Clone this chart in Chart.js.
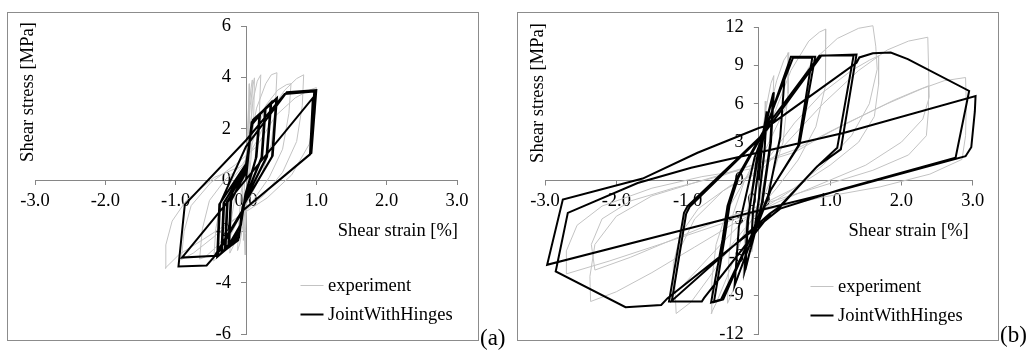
<!DOCTYPE html>
<html>
<head>
<meta charset="utf-8">
<script src="https://cdn.jsdelivr.net/npm/chart.js@4.4.1/dist/chart.umd.min.js"></script>
<style>
  html, body { margin: 0; padding: 0; background: #fff; }
  body { width: 1027px; height: 352px; position: relative; overflow: hidden; }
  .frame { position: absolute; border: 1px solid #8c8c8c; box-sizing: border-box; }
  .wrap { position: absolute; top: 0; height: 352px; }
</style>
</head>
<body>
<div class="frame" style="left:7px; top:12px; width:472px; height:329px;"></div>
<div class="frame" style="left:517px; top:12px; width:482px; height:329px;"></div>
<div class="wrap" style="left:0; width:510px;"><canvas id="chartA" width="510" height="352"></canvas></div>
<div class="wrap" style="left:510px; width:517px;"><canvas id="chartB" width="517" height="352"></canvas></div>

<script>
// ---- tick values ----
const strainTicks = [-3, -2, -1, 0, 1, 2, 3];
const stressTicksA = [-6, -4, -2, 0, 2, 4, 6];
const stressTicksB = [-12, -9, -6, -3, 0, 3, 6, 9, 12];

// ---- (a) experiment: [shear strain %, shear stress MPa] ----
const expA = [
  [0.00,0.00],[0.02,1.90],[0.04,3.10],[0.05,3.75],[0.045,2.20],[0.03,0.60],[0.00,-0.90],[-0.02,-1.90],[-0.04,-2.35],[-0.035,-1.20],[-0.02,-0.10],
  [0.01,0.90],[0.04,2.60],[0.07,3.55],[0.09,3.90],[0.08,2.30],[0.05,0.70],[0.01,-0.80],[-0.01,-2.10],[-0.01,-2.92],[-0.03,-1.60],[-0.05,-0.40],[-0.02,0.40],
  [0.02,1.40],[0.06,2.90],[0.10,3.70],[0.12,3.98],[0.11,2.50],[0.07,0.80],[0.02,-0.60],[-0.04,-1.70],[-0.09,-2.50],[-0.12,-2.75],[-0.10,-1.60],[-0.07,-0.50],[-0.02,0.40],
  [0.04,1.60],[0.10,3.10],[0.16,3.85],[0.21,4.10],[0.19,2.60],[0.13,0.90],[0.05,-0.40],[-0.05,-1.50],[-0.15,-2.40],[-0.23,-2.85],[-0.21,-1.60],[-0.15,-0.50],[-0.05,0.35],
  [0.05,1.30],[0.15,2.80],[0.28,3.75],[0.36,4.10],[0.44,4.18],[0.42,3.00],[0.36,1.40],[0.22,0.20],[0.05,-0.70],[-0.12,-1.60],[-0.28,-2.50],[-0.40,-3.00],[-0.46,-3.15],[-0.43,-1.90],[-0.35,-0.80],[-0.18,0.10],[0.00,0.70],
  [0.12,1.70],[0.28,2.90],[0.45,3.50],[0.58,3.72],[0.64,3.75],[0.61,2.60],[0.52,1.20],[0.33,0.10],[0.10,-0.80],[-0.15,-1.70],[-0.40,-2.55],[-0.58,-3.00],[-0.66,-3.08],[-0.62,-1.90],[-0.52,-0.80],[-0.30,0.00],[-0.05,0.60],
  [0.15,1.50],[0.35,2.70],[0.55,3.50],[0.72,3.95],[0.82,4.10],[0.80,2.90],[0.72,1.50],[0.52,0.30],[0.25,-0.60],[-0.10,-1.40],[-0.45,-2.20],[-0.75,-2.85],[-0.92,-3.10],[-0.88,-2.00],[-0.78,-1.00],[-0.50,-0.10],[-0.15,0.60],
  [0.15,1.30],[0.42,2.50],[0.70,3.20],[0.90,3.50],[1.00,3.60],[0.98,2.60],[0.90,1.40],[0.65,0.20],[0.30,-0.70],[-0.15,-1.50],[-0.60,-2.30],[-0.95,-2.90],[-1.15,-3.44],[-1.14,-2.53],[-1.05,-1.60],[-0.85,-0.80],[-0.45,0.10],[-0.10,0.50]
];

// ---- (a) JointWithHinges ----
const modelA = [
  [0.00,0.00],[0.08,2.20],[0.20,2.55],[0.15,0.90],[0.00,-0.50],[-0.07,-1.70],[-0.25,-2.55],[-0.22,-0.85],
  [0.00,0.30],[0.08,2.15],[0.19,2.50],[0.14,0.85],[-0.01,-0.55],[-0.07,-1.75],[-0.24,-2.50],[-0.21,-0.80],
  [0.00,0.35],[0.08,2.25],[0.28,2.80],[0.23,0.90],[-0.01,-0.70],[-0.09,-2.00],[-0.30,-2.70],[-0.27,-0.85],
  [0.00,0.40],[0.08,2.22],[0.27,2.75],[0.22,0.88],[-0.02,-0.75],[-0.09,-2.05],[-0.29,-2.65],[-0.26,-0.82],
  [0.00,0.45],[0.09,2.28],[0.36,3.03],[0.30,0.92],[-0.03,-0.90],[-0.10,-2.20],[-0.35,-2.85],[-0.32,-0.90],
  [0.00,0.50],[0.09,2.25],[0.35,2.98],[0.29,0.90],[-0.04,-0.95],[-0.10,-2.25],[-0.34,-2.80],[-0.31,-0.88],
  [0.00,0.60],[0.10,2.35],[0.44,3.20],[0.38,0.95],[-0.04,-1.00],[-0.11,-2.30],[-0.41,-3.00],[-0.38,-0.95],
  [0.00,0.62],[0.10,2.32],[0.43,3.15],[0.37,0.92],[-0.05,-1.05],[-0.11,-2.35],[-0.40,-2.95],[-0.37,-0.92],
  [0.00,1.30],[0.58,3.42],[1.00,3.50],[0.93,1.05],[-0.06,-1.22],[-0.46,-3.02],[-0.56,-3.33],[-0.96,-3.37],[-0.87,-0.96],
  [0.00,1.55],[0.55,3.35],[0.97,3.45],[0.91,0.99],[-0.04,-1.18],[-0.42,-2.95],[-0.91,-3.02],[0.95,3.20],[0.91,1.02]
];

// ---- (b) experiment ----
const expB = [
  [0.00,0.00],[0.04,2.80],[0.08,5.00],[0.10,6.20],[0.09,3.50],[0.04,0.30],[-0.02,-2.40],[-0.07,-4.60],[-0.10,-5.60],[-0.09,-3.00],[-0.04,-0.40],
  [0.03,2.50],[0.10,5.60],[0.17,7.60],[0.21,8.20],[0.19,4.80],[0.12,1.20],[0.00,-2.00],[-0.10,-4.80],[-0.18,-6.90],[-0.22,-7.60],[-0.20,-4.40],[-0.13,-1.20],
  [0.00,1.50],[0.12,4.80],[0.25,7.80],[0.35,9.40],[0.42,10.00],[0.41,6.80],[0.34,3.00],[0.18,0.20],[0.00,-2.20],[-0.15,-5.00],[-0.30,-7.70],[-0.40,-9.10],[-0.44,-9.60],[-0.42,-6.00],[-0.36,-2.60],[-0.20,0.00],
  [0.00,2.20],[0.20,5.00],[0.45,8.60],[0.70,10.90],[0.85,11.60],[0.94,11.84],[0.94,9.20],[0.93,7.40],[0.80,4.20],[0.55,1.60],[0.25,-0.60],[0.00,-2.20],[-0.20,-4.00],[-0.45,-7.60],[-0.60,-9.60],[-0.67,-10.40],[-0.66,-7.80],[-0.60,-5.00],[-0.45,-2.40],[-0.20,0.00],
  [0.10,2.50],[0.40,6.00],[0.75,9.30],[1.10,11.10],[1.40,11.90],[1.60,12.10],[1.64,10.50],[1.66,8.70],[1.55,6.00],[1.30,3.50],[0.90,1.20],[0.45,-0.80],[0.00,-2.40],[-0.35,-4.80],[-0.70,-7.60],[-0.95,-9.50],[-1.16,-10.40],[-1.18,-8.00],[-1.12,-5.50],[-0.90,-3.00],[-0.50,-0.80],[0.00,0.80],
  [0.10,1.50],[0.50,4.50],[0.90,6.90],[1.30,8.60],[1.55,9.40],[1.68,9.75],[1.68,7.50],[1.62,5.00],[1.40,3.00],[1.00,1.20],[0.50,-0.60],[0.00,-2.00],[-0.40,-4.20],[-0.80,-6.60],[-1.10,-8.40],[-1.20,-8.90],[-1.20,-6.50],[-1.10,-4.20],[-0.85,-2.20],[-0.40,-0.40],[0.00,0.60],
  [0.40,3.00],[0.90,6.00],[1.40,8.60],[1.80,10.20],[2.10,10.90],[2.37,11.20],[2.38,9.00],[2.39,6.50],[2.30,4.80],[2.00,3.00],[1.50,1.20],[0.90,-0.20],[0.30,-1.60],[-0.30,-3.20],[-0.90,-5.20],[-1.50,-7.20],[-2.00,-8.70],[-2.36,-9.46],[-2.37,-7.50],[-2.30,-5.00],[-2.00,-2.80],[-1.50,-1.20],[-0.80,0.00],[-0.20,1.00],
  [0.50,2.20],[1.00,3.80],[1.50,5.20],[1.90,6.30],[2.20,7.00],[2.38,7.40],[2.38,5.50],[2.35,3.50],[2.10,2.00],[1.60,0.80],[0.90,-0.40],[0.20,-1.60],[-0.50,-3.00],[-1.20,-4.60],[-1.80,-6.00],[-2.30,-7.00],[-2.35,-5.00],[-2.20,-3.00],[-1.80,-1.60],[-1.20,-0.60],[-0.50,0.40],
  [0.50,2.40],[1.20,4.40],[1.80,6.00],[2.30,7.20],[2.60,7.80],[2.90,8.05],[2.91,6.00],[2.90,3.50],[2.85,1.65],[2.40,0.50],[1.70,-0.50],[0.90,-1.30],[0.00,-2.40],[-0.80,-3.90],[-1.50,-5.20],[-2.10,-6.30],[-2.70,-7.30],[-2.70,-5.50],[-2.55,-3.50],[-2.20,-2.00],[-1.50,-0.60],[-0.80,0.30],[0.00,1.00]
];

// ---- (b) JointWithHinges ----
const modelB = [
  [0.00,0.00],[0.05,3.20],[0.11,5.40],[0.08,2.40],[0.00,-1.40],[-0.05,-3.40],[-0.11,-5.30],[-0.08,-2.30],[0.00,1.20],
  [0.05,3.40],[0.11,5.30],[0.08,2.30],[0.00,-1.50],[-0.05,-3.50],[-0.11,-5.20],[-0.08,-2.20],[0.01,1.40],
  [0.08,4.00],[0.21,6.90],[0.17,3.00],[0.05,-1.70],[-0.05,-4.00],[-0.20,-7.10],[-0.16,-3.20],[-0.02,1.60],
  [0.08,4.10],[0.20,6.80],[0.16,2.90],[0.04,-1.80],[-0.06,-4.10],[-0.19,-7.00],[-0.15,-3.10],[-0.03,1.70],
  [0.12,4.40],[0.36,8.00],[0.30,3.40],[0.12,-1.50],[-0.10,-4.60],[-0.34,-8.20],[-0.28,-3.60],[-0.06,1.80],
  [0.12,4.40],[0.45,9.67],[0.79,9.67],[0.57,2.80],[0.17,-0.70],[0.05,-2.50],[-0.53,-9.30],[-0.67,-9.54],[-0.51,-4.63],[-0.44,-2.00],[-0.32,0.08],[0.10,4.20],
  [0.48,9.60],[0.75,9.62],[0.55,2.70],[0.15,-0.90],[0.03,-2.60],[-0.50,-9.30],[-0.63,-9.50],[-0.48,-4.50],[-0.41,-1.90],[-0.29,0.20],
  [0.12,4.30],[0.85,9.75],[1.37,9.85],[1.15,2.43],[0.82,1.12],[0.31,-2.00],[0.17,-2.53],[-0.77,-9.20],[-0.80,-9.46],[-1.26,-9.46],[-1.05,-2.53],[-1.00,-2.00],[0.03,3.47],[0.17,4.39],
  [0.88,9.78],[1.33,9.80],[1.10,2.56],[0.80,1.00],[0.28,-2.10],[0.15,-2.60],[-1.22,-9.40],[-1.02,-2.60],[-0.97,-2.05],
  [0.03,3.40],[0.17,4.39],[1.37,9.20],[1.41,9.62],[1.60,9.95],[1.85,10.00],[2.09,9.49],[2.95,7.00],[2.76,1.78],[1.15,-0.70],[0.30,-2.20],
  [-1.28,-9.20],[-1.37,-9.73],[-1.87,-9.90],[-2.85,-7.11],[-2.68,-2.53],[-1.70,-0.20],[-0.95,1.00],[0.17,2.40],[1.20,3.74],[3.04,6.60],
  [3.03,5.40],[2.98,2.60],[2.90,1.90],[1.15,-0.75],[0.00,-2.35],[-2.97,-6.59],[-2.75,-1.49],[-1.63,0.15],[-0.86,2.17],[0.00,4.10],[0.17,4.39]
];

const FONT_FAMILY = '"Liberation Serif", "Times New Roman", serif';
const AXIS_GREY = '#868686';

const toPoints = arr => arr.map(([x, y]) => ({ x, y }));

// Axes cross at the origin: both scales take no room during layout and are
// moved onto the zero lines of the other scale once the chart area is known.
const crossAtOrigin = {
  id: 'crossAtOrigin',
  afterLayout(chart) {
    const { x, y } = chart.scales;
    const x0 = x.getPixelForValue(0);
    const y0 = y.getPixelForValue(0);
    y.right = x0; y.left = x0 - 60; y.width = 60;
    x.top = y0; x.bottom = y0 + 40; x.height = 40;
  }
};

// Axis titles, in-plot legend and panel tag
const panelDecor = {
  id: 'panelDecor',
  afterDraw(chart, args, o) {
    const ctx = chart.ctx;
    const { left, right, top } = chart.chartArea;
    const y0 = chart.scales.y.getPixelForValue(0);
    ctx.save();
    ctx.fillStyle = '#000';
    ctx.font = '18.5px ' + FONT_FAMILY;

    // y-axis title
    ctx.save();
    ctx.translate(left - 6.5, top + 66);
    ctx.rotate(-Math.PI / 2);
    ctx.textAlign = 'center';
    ctx.textBaseline = 'middle';
    ctx.fillText(o.yTitle, 0, 0);
    ctx.restore();

    // x-axis title
    ctx.textAlign = 'right';
    ctx.textBaseline = 'middle';
    ctx.fillText(o.xTitle, right + o.xTitleShift, y0 + 51);

    // legend
    const lx = left + 265.5;
    const rows = [top + 259.5, top + 288.5];
    chart.data.datasets.slice().sort((a, b) => b.order - a.order).forEach((ds, i) => {
      ctx.beginPath();
      ctx.strokeStyle = ds.borderColor;
      ctx.lineWidth = ds.borderWidth;
      ctx.moveTo(lx, rows[i]);
      ctx.lineTo(lx + 23, rows[i]);
      ctx.stroke();
      ctx.textAlign = 'left';
      ctx.textBaseline = 'middle';
      ctx.fillText(ds.label, lx + 27.5, rows[i] + 1);
    });

    // panel tag
    ctx.font = '23px ' + FONT_FAMILY;
    ctx.textAlign = 'left';
    ctx.textBaseline = 'alphabetic';
    ctx.fillText(o.tag, o.tagX, o.tagY);
    ctx.restore();
  }
};

function zeroFit(scale) {
  if (scale.isHorizontal()) scale.height = 0; else scale.width = 0;
  scale.paddingLeft = scale.paddingRight = scale.paddingTop = scale.paddingBottom = 0;
}

function makeChart(id, exp, model, stressTicks, stressMax, padding, decor) {
  const font = { family: FONT_FAMILY, size: 18.5 };
  return new Chart(document.getElementById(id), {
    type: 'scatter',
    data: {
      datasets: [
        {
          label: 'JointWithHinges', data: toPoints(model), order: 0,
          showLine: true, borderColor: '#000000', borderWidth: 2,
          pointRadius: 0, tension: 0, clip: false
        },
        {
          label: 'experiment', data: toPoints(exp), order: 1,
          showLine: true, borderColor: '#c3c3c3', borderWidth: 1,
          pointRadius: 0, tension: 0, clip: false
        }
      ]
    },
    options: {
      responsive: false,
      animation: false,
      devicePixelRatio: 1,
      layout: { padding },
      plugins: { legend: { display: false }, tooltip: { enabled: false }, panelDecor: decor },
      scales: {
        x: {
          type: 'linear', position: 'bottom', min: -3, max: 3,
          afterBuildTicks: s => { s.ticks = strainTicks.map(v => ({ value: v })); },
          afterFit: zeroFit,
          ticks: { callback: v => Number(v).toFixed(1), font, color: '#000', padding: 5, maxRotation: 0, autoSkip: false },
          grid: { drawOnChartArea: false, drawTicks: true, tickLength: 5, color: AXIS_GREY, lineWidth: 1 },
          border: { display: true, color: AXIS_GREY, width: 1 }
        },
        y: {
          type: 'linear', position: 'left', min: -stressMax, max: stressMax,
          afterBuildTicks: s => { s.ticks = stressTicks.map(v => ({ value: v })); },
          afterFit: zeroFit,
          ticks: { callback: v => String(v), font, color: '#000', padding: 10, autoSkip: false },
          grid: { drawOnChartArea: false, drawTicks: true, tickLength: 5, color: AXIS_GREY, lineWidth: 1 },
          border: { display: true, color: AXIS_GREY, width: 1 }
        }
      }
    },
    plugins: [crossAtOrigin, panelDecor]
  });
}

makeChart('chartA', expA, modelA, stressTicksA, 6,
  { left: 35, right: 53, top: 26, bottom: 18 },
  { yTitle: 'Shear stress [MPa]', xTitle: 'Shear strain [%]', xTitleShift: 1, tag: '(a)', tagX: 480, tagY: 345 });

makeChart('chartB', expB, modelB, stressTicksB, 12,
  { left: 35, right: 54.3, top: 27, bottom: 18 },
  { yTitle: 'Shear stress [MPa]', xTitle: 'Shear strain [%]', xTitleShift: -4, tag: '(b)', tagX: 490, tagY: 342 });
</script>
</body>
</html>
